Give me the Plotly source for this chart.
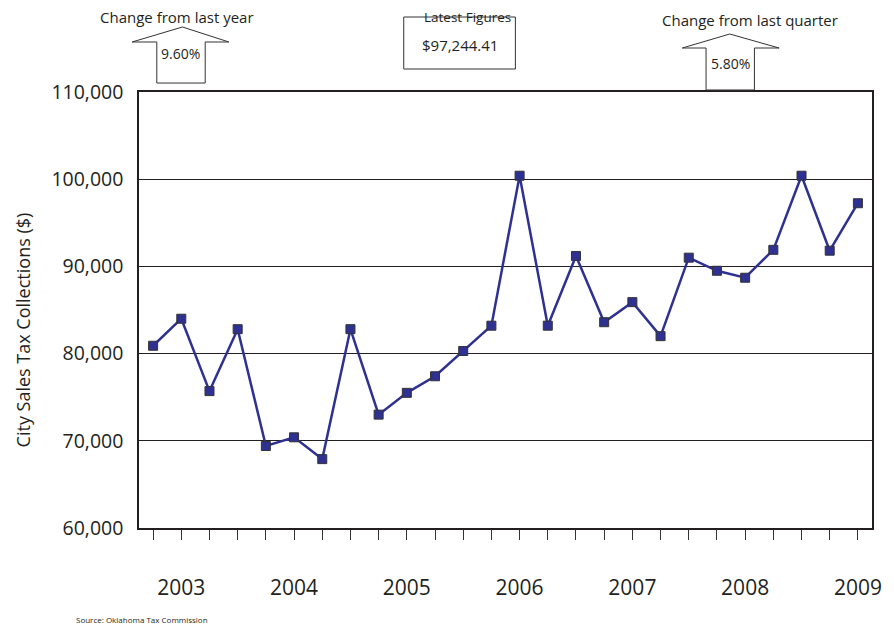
import plotly.graph_objects as go

# quarterly city sales tax collections
quarter_index = list(range(26))
collections = [
    80900, 84000, 75700, 82800, 69400, 70400, 67900, 82800,
    73000, 75500, 77400, 80300, 83200, 100400, 83200, 91200,
    83600, 85900, 82000, 91000, 89500, 88700, 91900, 100400,
    91800, 97244,
]
year_labels = {1: "2003", 5: "2004", 9: "2005", 13: "2006", 17: "2007", 21: "2008", 25: "2009"}
tick_text = [year_labels.get(i, "") for i in quarter_index]

FONT = "Open Sans"
LINE_COLOR = "#2E3192"

# page body has an 8px margin, so the figure is drawn 8px in from the corner
OFF = 8
W, H = 894, 627
# plot area in window pixels (for placing the callouts)
L, R, T, B = 139, 881, 92, 528


def px(x):
    return (x - L) / (R - L)


def py(y):
    return (B - y) / (B - T)


fig = go.Figure()
fig.add_trace(
    go.Scatter(
        x=quarter_index,
        y=collections,
        mode="lines+markers",
        line=dict(color=LINE_COLOR, width=2.5),
        marker=dict(symbol="square", size=9, color=LINE_COLOR,
                    line=dict(color="#333333", width=1)),
        showlegend=False,
        hoverinfo="y",
    )
)


def up_arrow(tip, wing_l, wing_r, shaft_l, shaft_r, wing_y, bottom):
    pts = [
        tip,
        (wing_r, wing_y),
        (shaft_r, wing_y),
        (shaft_r, bottom),
        (shaft_l, bottom),
        (shaft_l, wing_y),
        (wing_l, wing_y),
    ]
    path = "M " + " L ".join(f"{px(a):.4f},{py(b):.4f}" for a, b in pts) + " Z"
    return dict(type="path", xref="paper", yref="paper", path=path,
                fillcolor="white", line=dict(color="#333333", width=1))


shapes = [
    up_arrow((183, 27), 132, 230, 157, 206, 42, 83),
    up_arrow((737, 34), 689, 787, 713, 762, 48, 90),
    dict(type="rect", xref="paper", yref="paper",
         x0=px(407), x1=px(520), y0=py(69), y1=py(17),
         fillcolor="white", line=dict(color="#333333", width=1)),
]


def label(x, y, text, size):
    return dict(xref="paper", yref="paper", x=px(x), y=py(y), text=text,
                showarrow=False, xanchor="center", yanchor="middle",
                borderpad=0,
                font=dict(family=FONT, size=size, color="#231F20"))


annotations = [
    label(177, 17, "Change from last year", 15),
    label(181, 53, "9.60%", 14),
    label(472, 17, "Latest Figures", 13.5),
    label(464, 45, "$97,244.41", 15),
    label(758, 20, "Change from last quarter", 15),
    label(738, 63, "5.80%", 14),
    dict(xref="paper", yref="paper", x=px(22), y=py(330),
         text="City Sales Tax Collections ($)", textangle=-90,
         showarrow=False, xanchor="center", yanchor="middle",
         font=dict(family=FONT, size=18, color="#231F20")),
    dict(xref="paper", yref="paper", x=px(73), y=py(619),
         text="Source: Oklahoma Tax Commission", showarrow=False,
         xanchor="left", yanchor="middle",
         font=dict(family=FONT, size=8, color="#231F20")),
]

fig.update_layout(
    width=W - OFF,
    height=H - OFF,
    margin=dict(l=L - OFF, r=W - R, t=T - OFF, b=H - B),
    paper_bgcolor="white",
    plot_bgcolor="white",
    font=dict(family=FONT, color="#231F20"),
    shapes=shapes,
    annotations=annotations,
    xaxis=dict(
        range=[-0.5, 25.5],
        tickvals=quarter_index,
        ticktext=tick_text,
        ticks="outside",
        ticklen=10,
        tickwidth=1,
        tickcolor="#333333",
        ticklabelstandoff=30,
        tickfont=dict(size=21),
        showgrid=False,
        showline=True,
        linecolor="#231F20",
        linewidth=1.5,
        mirror=True,
        zeroline=False,
    ),
    yaxis=dict(
        range=[60000, 110000],
        dtick=10000,
        tickformat=",d",
        ticks="",
        ticklabelstandoff=10,
        tickfont=dict(size=19.5),
        showgrid=True,
        gridcolor="#231F20",
        gridwidth=1,
        showline=True,
        linecolor="#231F20",
        linewidth=1.5,
        mirror=True,
        zeroline=False,
    ),
)

fig.write_html("out.html")
